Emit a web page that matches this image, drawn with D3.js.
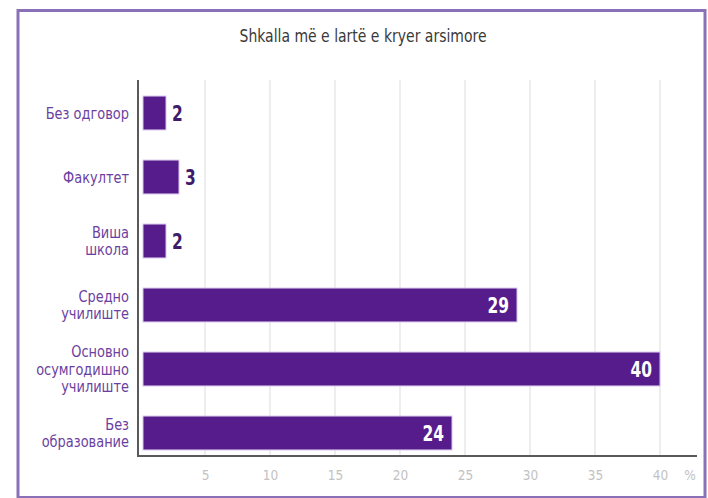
<!DOCTYPE html>
<html>
<head>
<meta charset="utf-8">
<script src="https://cdn.jsdelivr.net/npm/d3@7"></script>
<style>
  html, body { margin: 0; padding: 0; background: #ffffff; }
  svg { display: block; }
  text { font-family: "DejaVu Sans Condensed", "Liberation Sans Narrow", sans-serif; }
</style>
</head>
<body>
<svg id="chart" width="708" height="498"></svg>
<script>
// Highest completed level of education, share of respondents (%)
const titleText = "Shkalla më e lartë e kryer arsimore";
const categories = [
  ["Без одговор"],
  ["Факултет"],
  ["Виша", "школа"],
  ["Средно", "училиште"],
  ["Основно", "осумгодишно", "училиште"],
  ["Без", "образование"]
];
const values = [2, 3, 2, 29, 40, 24];
const tickValues = [5, 10, 15, 20, 25, 30, 35, 40];
const unitLabel = "%";

const svg = d3.select("#chart");
const keys = categories.map(c => c.join(" "));

// outer frame
svg.append("rect")
  .attr("x", 18).attr("y", 10.5)
  .attr("width", 687).attr("height", 487)
  .attr("fill", "#ffffff")
  .attr("stroke", "#8a70b6")
  .attr("stroke-width", 3);

// title, narrow lettering
svg.append("text")
  .attr("x", 363).attr("y", 42)
  .attr("text-anchor", "middle")
  .attr("font-size", 18)
  .attr("fill", "#3a3a3a")
  .attr("textLength", 247)
  .attr("lengthAdjust", "spacingAndGlyphs")
  .text(titleText);

const x = d3.scaleLinear().domain([0, 40]).range([140, 660]);
const y = d3.scaleBand().domain(keys).range([81, 465])
  .paddingInner(0.47).paddingOuter(0.235);

const axisTop = 80, axisBottom = 456, axisLeft = 138;

// vertical gridlines
svg.append("g").selectAll("line").data(tickValues).join("line")
  .attr("x1", d => x(d)).attr("x2", d => x(d))
  .attr("y1", axisTop).attr("y2", axisBottom)
  .attr("stroke", "#e2e2e2").attr("stroke-width", 1.2);

// bars
svg.append("g").selectAll("rect").data(values).join("rect")
  .attr("x", x(0) + 3)
  .attr("y", (d, i) => y(keys[i]))
  .attr("width", d => x(d) - x(0) - 3)
  .attr("height", y.bandwidth())
  .attr("fill", "#561c8c")
  .attr("stroke", "#d8c6ec")
  .attr("stroke-width", 1);

// value labels: outside for short bars, inside for long bars (narrowed)
svg.append("g").selectAll("text").data(values).join("text")
  .attr("transform", (d, i) => {
    const tx = d < 10 ? x(d) + 6 : x(d) - 8;
    const ty = y(keys[i]) + y.bandwidth() / 2;
    return `translate(${tx},${ty}) scale(0.78,1)`;
  })
  .attr("dy", "0.36em")
  .attr("text-anchor", d => d < 10 ? "start" : "end")
  .attr("font-size", 22)
  .attr("font-weight", "bold")
  .attr("fill", d => d < 10 ? "#3e1a6a" : "#ffffff")
  .text(d => d);

// category labels (narrowed, right-aligned against the axis)
const lineH = 17.5;
const catG = svg.append("g").selectAll("g").data(categories).join("g")
  .attr("transform", (d, i) => `translate(129,${y(keys[i]) + y.bandwidth() / 2}) scale(0.93,1)`);
catG.each(function(lines) {
  const t = d3.select(this).append("text")
    .attr("text-anchor", "end")
    .attr("font-size", 15.5)
    .attr("fill", "#6b3fa0");
  const y0 = -(lines.length - 1) * lineH / 2;
  lines.forEach((s, j) => {
    t.append("tspan").attr("x", 0).attr("y", y0 + j * lineH).attr("dy", "0.36em").text(s);
  });
});

// axes lines
svg.append("line")
  .attr("x1", axisLeft).attr("x2", axisLeft)
  .attr("y1", axisTop).attr("y2", axisBottom)
  .attr("stroke", "#5a5a5a").attr("stroke-width", 2);
svg.append("line")
  .attr("x1", axisLeft - 1).attr("x2", 697)
  .attr("y1", axisBottom).attr("y2", axisBottom)
  .attr("stroke", "#5a5a5a").attr("stroke-width", 2);

// tick labels
const xAxis = d3.axisBottom(x).tickValues(tickValues).tickSize(0).tickPadding(0);
const gx = svg.append("g").attr("transform", `translate(0,${axisBottom + 14})`).call(xAxis);
gx.select(".domain").remove();
gx.selectAll("text")
  .attr("font-size", 13.5)
  .attr("fill", "#c2c2c2")
  .attr("font-family", "\"DejaVu Sans Condensed\", sans-serif");
svg.append("text")
  .attr("x", 690).attr("y", axisBottom + 14).attr("dy", "0.71em")
  .attr("text-anchor", "middle")
  .attr("font-size", 13.5).attr("fill", "#c2c2c2")
  .text(unitLabel);
</script>
</body>
</html>
